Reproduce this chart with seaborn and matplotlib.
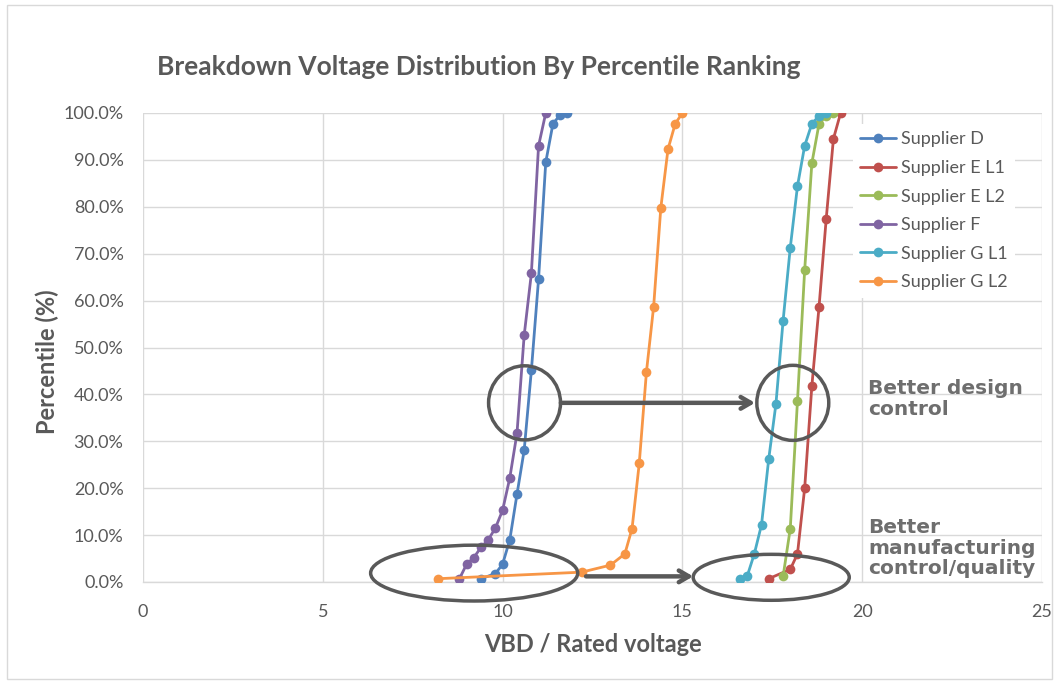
import numpy as np
import pandas as pd
import matplotlib
matplotlib.use("Agg")
import matplotlib.pyplot as plt
from matplotlib.patches import Ellipse, Rectangle
from matplotlib.ticker import FuncFormatter
import seaborn as sns

# ---------------- data ----------------
suppliers = ["Supplier D", "Supplier E L1", "Supplier E L2",
             "Supplier F", "Supplier G L1", "Supplier G L2"]

d_vbd = [9.4, 9.8, 10.0, 10.2, 10.4, 10.6, 10.8, 11.0, 11.2, 11.4, 11.6, 11.8]
d_pct = [0.7, 1.8, 3.8, 9.0, 18.7, 28.1, 45.1, 64.6, 89.5, 97.7, 99.6, 100.0]

e1_vbd = [17.4, 18.0, 18.2, 18.4, 18.6, 18.8, 19.0, 19.2, 19.4]
e1_pct = [0.7, 2.7, 6.0, 20.0, 41.8, 58.7, 77.5, 94.5, 100.0]

e2_vbd = [17.8, 18.0, 18.2, 18.4, 18.6, 18.8, 19.0, 19.2]
e2_pct = [1.2, 11.4, 38.6, 66.5, 89.3, 97.7, 99.4, 100.0]

f_vbd = [8.8, 9.0, 9.2, 9.4, 9.6, 9.8, 10.0, 10.2, 10.4, 10.6, 10.8, 11.0, 11.2]
f_pct = [0.7, 3.8, 5.2, 7.4, 9.0, 11.5, 15.3, 22.2, 31.7, 52.6, 65.8, 93.0, 100.0]

g1_vbd = [16.6, 16.8, 17.0, 17.2, 17.4, 17.6, 17.8, 18.0, 18.2, 18.4, 18.6, 18.8, 19.0]
g1_pct = [0.7, 1.2, 6.0, 12.2, 26.2, 37.9, 55.7, 71.3, 84.4, 93.0, 97.7, 99.4, 100.0]

g2_vbd = [8.2, 12.2, 13.0, 13.4, 13.6, 13.8, 14.0, 14.2, 14.4, 14.6, 14.8, 15.0]
g2_pct = [0.7, 2.1, 3.6, 6.0, 11.4, 25.3, 44.8, 58.7, 79.8, 92.3, 97.7, 100.0]

series_vbd = [d_vbd, e1_vbd, e2_vbd, f_vbd, g1_vbd, g2_vbd]
series_pct = [d_pct, e1_pct, e2_pct, f_pct, g1_pct, g2_pct]

x_ticks = [0, 5, 10, 15, 20, 25]
y_ticks = [0, 10, 20, 30, 40, 50, 60, 70, 80, 90, 100]

colors = ["#4F81BD", "#C0504D", "#9BBB59", "#8064A2", "#4BACC6", "#F79646"]

title = "Breakdown Voltage Distribution By Percentile Ranking"
xlabel = "VBD / Rated voltage"
ylabel = "Percentile (%)"
note_design = "Better design\ncontrol"
note_mfg = "Better\nmanufacturing\ncontrol/quality"

rows = []
for name, xs, ys in zip(suppliers, series_vbd, series_pct):
    for i, (xv, yv) in enumerate(zip(xs, ys)):
        rows.append({"supplier": name, "order": i, "vbd": xv, "pct": yv})
df = pd.DataFrame(rows)

# ---------------- figure ----------------
sns.set_theme(style="white")
plt.rcParams["font.family"] = ["Lato", "DejaVu Sans"]

W, H = 1057, 684
fig = plt.figure(figsize=(W / 100, H / 100), dpi=100)
ax = fig.add_axes([143 / W, 1 - 582 / H, (1042 - 143) / W, (582 - 113) / H])

grey_txt = "#595959"
grid_c = "#D9D9D9"

sns.lineplot(data=df, x="vbd", y="pct", hue="supplier", hue_order=suppliers,
             palette=colors, sort=False, estimator=None, units="supplier",
             marker="o", markersize=7, markeredgewidth=0, linewidth=2,
             ax=ax, legend=True, zorder=3)

ax.set_xlim(0, 25)
ax.set_ylim(0, 100)
ax.set_xticks(x_ticks)
ax.set_yticks(y_ticks)
ax.yaxis.set_major_formatter(FuncFormatter(lambda v, p: f"{v:.1f}%"))
ax.grid(True, color=grid_c, linewidth=1)
ax.set_axisbelow(True)
for s in ["top", "right", "left"]:
    ax.spines[s].set_visible(False)
ax.spines["bottom"].set_color(grid_c)
ax.spines["bottom"].set_linewidth(1)
ax.tick_params(axis="both", length=0, labelsize=13, labelcolor=grey_txt)
ax.tick_params(axis="y", pad=14)
ax.tick_params(axis="x", pad=16)

ax.set_xlabel(xlabel, fontsize=17, fontweight="bold", color=grey_txt)
ax.set_ylabel(ylabel, fontsize=17, fontweight="bold", color=grey_txt)
ax.yaxis.set_label_coords(-0.093, 0.469)
ax.xaxis.set_label_coords(0.5, -0.108)

fig.text(157 / W, 1 - 75 / H, title, fontsize=19, fontweight="bold",
         color=grey_txt, ha="left", va="baseline")

# legend
handles, labels = ax.get_legend_handles_labels()
leg = ax.legend(handles, labels, loc="upper left",
                bbox_to_anchor=(853 / W, 1 - 124 / H), bbox_transform=fig.transFigure,
                frameon=True, facecolor="white", edgecolor="none", framealpha=1,
                fontsize=13, handlelength=2.0, handletextpad=0.25,
                labelspacing=0.7, borderpad=0.4, borderaxespad=0)
for t in leg.get_texts():
    t.set_color(grey_txt)
leg.set_zorder(5)

# annotations
ann_c = "#595959"
ax.add_patch(Ellipse((10.61, 38.2), 2.0, 15.8, fill=False, edgecolor=ann_c, lw=2.5, zorder=6))
ax.add_patch(Ellipse((18.07, 38.2), 2.0, 16.0, fill=False, edgecolor=ann_c, lw=2.5, zorder=6))
ax.add_patch(Ellipse((9.21, 1.9), 5.76, 11.9, fill=False, edgecolor=ann_c, lw=2.5,
                     zorder=6, clip_on=False))
ax.add_patch(Ellipse((17.47, 1.0), 4.34, 9.8, fill=False, edgecolor=ann_c, lw=2.5,
                     zorder=6, clip_on=False))
ax.annotate("", xy=(17.02, 38.2), xytext=(11.62, 38.2),
            arrowprops=dict(arrowstyle="->,head_length=0.6,head_width=0.35",
                            color=ann_c, lw=3.2, shrinkA=0, shrinkB=0), zorder=6)
ax.annotate("", xy=(15.3, 1.2), xytext=(12.32, 1.2),
            arrowprops=dict(arrowstyle="->,head_length=0.6,head_width=0.35",
                            color=ann_c, lw=3.2, shrinkA=0, shrinkB=0), zorder=6,
            annotation_clip=False)

fig.text(868 / W, 1 - 415 / H, note_design, fontsize=14.5, fontweight="bold",
         family="DejaVu Sans", color="#6E6E6E", ha="left", va="baseline",
         linespacing=1.14)
fig.text(868 / W, 1 - 574 / H, note_mfg, fontsize=14.5, fontweight="bold",
         family="DejaVu Sans", color="#6E6E6E", ha="left", va="baseline",
         linespacing=1.1)

# outer chart border
fig.patches.append(Rectangle((7 / W, 5 / H), (1052 - 7) / W, (679 - 5) / H,
                             transform=fig.transFigure, fill=False,
                             edgecolor=grid_c, lw=1))

fig.savefig("out.png", dpi=100)
